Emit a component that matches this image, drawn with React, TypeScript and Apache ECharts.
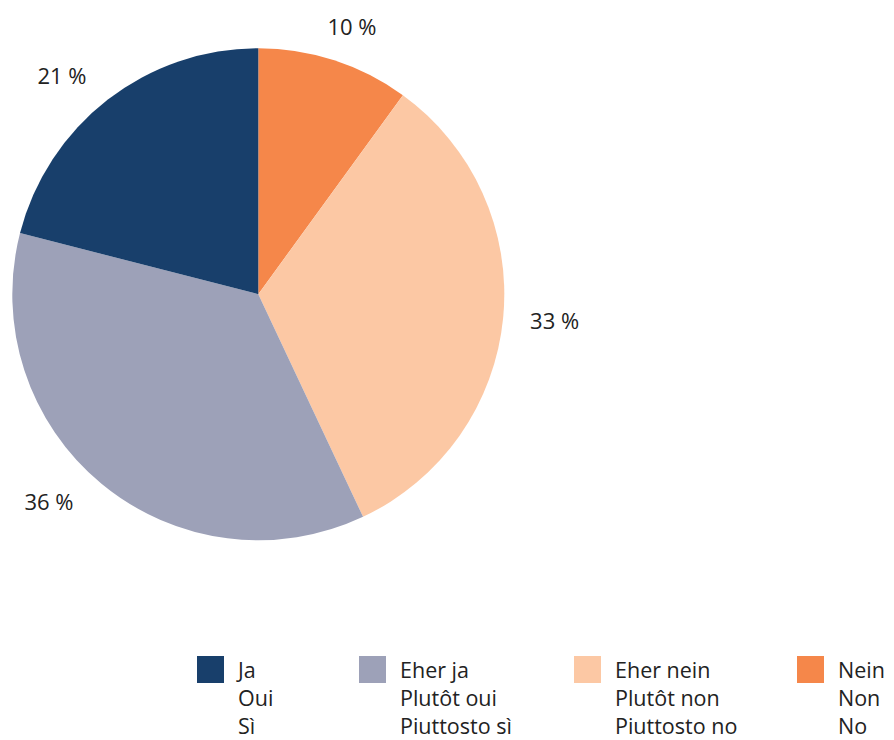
import React, { useEffect, useRef } from "react";
import * as echarts from "echarts";

// Categories in legend order
const namesDe = ["Ja", "Eher ja", "Eher nein", "Nein"];
const namesFr = ["Oui", "Plutôt oui", "Plutôt non", "Non"];
const namesIt = ["Sì", "Piuttosto sì", "Piuttosto no", "No"];
const shares = [21, 36, 33, 10];
const colors = ["#183F6B", "#9DA1B8", "#FCC8A4", "#F5874A"];

// drawing order clockwise from 12 o'clock
const drawOrder = [3, 2, 1, 0];

// per-slice label placement (label line hidden)
const labelPlacement: Record<number, { len: number; len2: number; dist: number }> = {
  3: { len: 36, len2: 0, dist: -18 },
  2: { len: 27, len2: 0, dist: 0 },
  1: { len: 22, len2: 9, dist: 5 },
  0: { len: 31, len2: 0, dist: 2 },
};

const legendLefts = [197, 359, 574, 797];

const FONT = "'Open Sans', Lato, sans-serif";

export default function App() {
  const ref = useRef<HTMLDivElement>(null);

  useEffect(() => {
    if (!ref.current) return;
    const chart = echarts.init(ref.current, undefined, { renderer: "svg" });

    const data = drawOrder.map((i) => {
      const p = labelPlacement[i];
      return {
        name: namesDe[i],
        value: shares[i],
        itemStyle: { color: colors[i] },
        label: { distanceToLabelLine: p.dist },
        labelLine: { show: false, length: p.len, length2: p.len2 },
      };
    });

    const legends = namesDe.map((n, i) => ({
      data: [n],
      left: legendLefts[i],
      top: 599.5,
      orient: "vertical",
      padding: 0,
      itemWidth: 27,
      itemHeight: 27,
      icon: "rect",
      selectedMode: false,
      // two leading empty lines so that the first line sits beside the swatch
      formatter: () => `\n\n${namesDe[i]}\n${namesFr[i]}\n${namesIt[i]}`,
      textStyle: {
        fontFamily: FONT,
        fontSize: 21.5,
        color: "#222",
        lineHeight: 28,
        padding: [0, 0, 0, 9],
      },
    }));

    chart.setOption({
      animation: false,
      backgroundColor: "#ffffff",
      legend: legends,
      series: [
        {
          type: "pie",
          center: [258.3, 294.2],
          radius: [0, 246],
          startAngle: 90,
          clockwise: true,
          avoidLabelOverlap: false,
          silent: true,
          label: {
            show: true,
            position: "outside",
            formatter: "{c} %",
            fontFamily: FONT,
            fontSize: 22,
            color: "#222",
          },
          labelLine: { show: false },
          data,
        },
      ],
    });

    return () => chart.dispose();
  }, []);

  return (
    <div
      ref={ref}
      style={{ position: "fixed", left: 0, top: 0, width: 894, height: 740 }}
    />
  );
}
